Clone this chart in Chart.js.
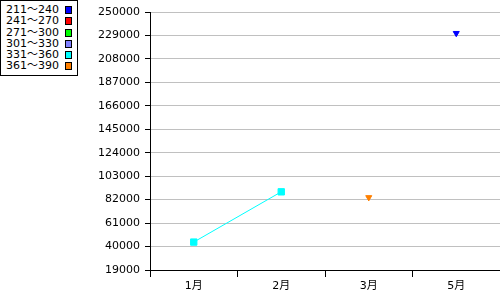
<!DOCTYPE html>
<html><head><meta charset="utf-8">
<script src="https://cdn.jsdelivr.net/npm/chart.js@4"></script>
<style>
html,body{margin:0;padding:0;background:#fff;}
#wrap{position:relative;width:500px;height:300px;}
#legend{position:absolute;left:0;top:0;width:76px;height:71px;border:1px solid #000;background:#fff;font:11px "DejaVu Sans","Noto Sans CJK JP",sans-serif;color:#000;padding-top:3px;box-sizing:content-box;}
#legend .row{position:relative;height:11.3px;line-height:11.3px;padding-left:5px;white-space:nowrap;}
#legend .sw{position:absolute;left:64px;top:2px;width:7px;height:8px;border:1px solid #000;box-sizing:border-box;}
</style>
</head><body>
<div id="wrap">
<canvas id="c" width="500" height="300"></canvas>
<div id="legend"></div>
</div>
<script>
const categories = ['1月', '2月', '3月', '5月'];
const seriesNames = ['211～240', '241～270', '271～300', '301～330', '331～360', '361～390'];
const seriesColors = ['#0000ff', '#ff0000', '#00ff00', '#8080ff', '#00ffff', '#ff8000'];
const seriesPointStyles = ['triangle', 'triangle', 'triangle', 'triangle', 'rect', 'triangle'];
const s211_240 = [null, null, null, 231000];
const s241_270 = [null, null, null, null];
const s271_300 = [null, null, null, null];
const s301_330 = [null, null, null, null];
const s331_360 = [44000, 89000, null, null];
const s361_390 = [null, null, 84000, null];
const seriesValues = [s211_240, s241_270, s271_300, s301_330, s331_360, s361_390];
const yMin = 19000, yMax = 250000, yStep = 21000;

const FONT = '"DejaVu Sans","Noto Sans CJK JP",sans-serif';

// HTML legend
const lg = document.getElementById('legend');
seriesNames.forEach((n, i) => {
  const r = document.createElement('div'); r.className = 'row';
  r.textContent = n;
  const sw = document.createElement('span'); sw.className = 'sw'; sw.style.background = seriesColors[i];
  r.appendChild(sw); lg.appendChild(r);
});

const datasets = seriesNames.map((n, i) => {
  const isRect = seriesPointStyles[i] === 'rect';
  return {
    label: n,
    data: seriesValues[i],
    borderColor: seriesColors[i],
    backgroundColor: seriesColors[i],
    borderWidth: 1,
    pointStyle: seriesPointStyles[i],
    pointRotation: isRect ? 0 : 180,
    pointRadius: isRect ? 4.5 : 3.5,
    pointBorderWidth: 1,
    pointBorderColor: seriesColors[i],
    pointBackgroundColor: seriesColors[i],
    spanGaps: false,
    tension: 0
  };
});

new Chart(document.getElementById('c'), {
  type: 'line',
  data: { labels: categories, datasets },
  options: {
    responsive: false,
    animation: false,
    layout: { autoPadding: false, padding: { top: 12, right: 0, left: 0, bottom: 0 } },
    plugins: { legend: { display: false }, tooltip: { enabled: false } },
    scales: {
      x: {
        offset: true,
        grid: { offset: true, drawOnChartArea: false, color: '#000', tickColor: '#000', tickLength: 7 },
        border: { color: '#000', width: 1 },
        ticks: { color: '#000', font: { family: FONT, size: 11 }, padding: 3, maxRotation: 0 },
        afterFit(s) { s.height = 30; s.paddingLeft = 0; s.paddingRight = 0; }
      },
      y: {
        min: yMin, max: yMax,
        ticks: { stepSize: yStep, color: '#000', font: { family: FONT, size: 11 }, padding: 5, callback: v => String(v) },
        grid: { color: '#c0c0c0', tickColor: '#000', tickLength: 5 },
        border: { color: '#000', width: 1 },
        afterFit(s) { s.width = 150; }
      }
    }
  }
});
</script>
</body></html>
